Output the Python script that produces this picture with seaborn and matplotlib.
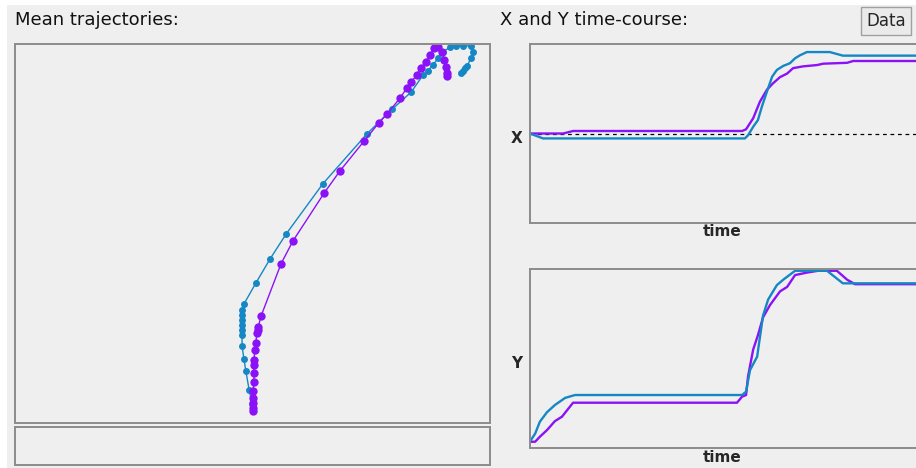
import matplotlib
matplotlib.use("Agg")
import matplotlib.pyplot as plt
import seaborn as sns
import pandas as pd
from matplotlib.patches import Rectangle

# colours of the two conditions
purple = "#8B12F7"
blue = "#1487C4"
panel_bg = "#EFEFEF"
frame = "#8C8C8C"

# ---- mean trajectories (x, y), bottom to top ----
traj_purple_x = [50.1, 50.1, 50.1, 50.1, 50.1, 50.3, 50.3, 50.3, 50.3, 50.5, 50.7, 50.9, 51.2, 51.2,
                 51.8, 56.0, 58.5, 65.1, 68.4, 73.5, 76.6, 78.3, 81.1, 82.5, 83.4, 84.6, 85.5,
                 86.5, 87.4, 88.2, 89.1, 89.9, 90.3, 90.7, 90.9, 90.9]
traj_purple_y = [3.2, 4.0, 5.3, 6.6, 8.4, 10.8, 13.2, 15.3, 16.6, 19.3, 21.1, 23.7, 24.5, 25.3,
                 28.2, 42.0, 48.0, 60.7, 66.5, 74.4, 79.2, 81.5, 85.8, 88.4, 90.0, 91.8, 93.7,
                 95.3, 97.1, 98.9, 99.2, 97.9, 95.8, 93.9, 92.3, 91.6]

traj_blue_x = [50.1, 49.9, 49.3, 48.6, 48.2, 47.8, 47.8, 47.8, 47.8, 47.8, 47.8, 47.8, 48.2,
               50.7, 53.7, 57.1, 64.8, 74.1, 79.4, 83.4, 85.9, 86.9, 88.0, 89.1, 90.1, 91.6,
               92.8, 94.3, 96.0, 96.4, 96.0, 95.2, 94.7, 94.3, 93.9]
traj_blue_y = [4.0, 5.0, 8.7, 13.7, 16.9, 20.3, 23.2, 24.5, 25.9, 27.2, 28.5, 29.8, 31.4,
               36.9, 43.3, 49.9, 63.1, 76.3, 82.8, 87.3, 91.8, 92.9, 94.5, 96.3, 97.9, 99.2,
               99.5, 99.5, 99.5, 97.9, 96.3, 94.2, 93.7, 92.9, 92.3]

# ---- X time-course ----
x_purple_t = [0, 8.4, 10.9, 53.7, 54.7, 56.5, 58.2, 60.0, 61.5, 63.3, 65.1, 66.6, 69.1, 72.7, 74.2,
              80.3, 81.8, 100]
x_purple_v = [0.0, 0.0, 0.028, 0.028, 0.047, 0.17, 0.355, 0.49, 0.56, 0.63, 0.67, 0.73, 0.75, 0.765,
              0.78, 0.79, 0.81, 0.81]
x_blue_t = [0, 1.8, 3.3, 54.4, 55.2, 56.5, 57.7, 58.7, 60.0, 61.3, 62.5, 64.1, 65.8, 67.1, 68.4,
            70.1, 75.9, 79.2, 100]
x_blue_v = [0.0, -0.03, -0.055, -0.055, -0.02, 0.075, 0.15, 0.30, 0.47, 0.635, 0.71, 0.755, 0.785,
            0.84, 0.875, 0.91, 0.91, 0.87, 0.87]

# ---- Y time-course ----
y_purple_t = [0.25, 1.3, 2.5, 4.3, 6.3, 8.1, 10.9, 52.4, 53.7, 54.7, 55.2, 56.5, 57.7, 59.0, 60.8,
              63.3, 65.1, 67.1, 70.1, 72.9, 77.7, 80.3, 82.3, 100]
y_purple_v = [0.035, 0.035, 0.063, 0.10, 0.15, 0.175, 0.253, 0.253, 0.287, 0.296, 0.40, 0.55, 0.63,
              0.73, 0.80, 0.875, 0.90, 0.966, 0.98, 0.99, 0.99, 0.94, 0.915, 0.915]
y_blue_t = [0.25, 1.3, 2.5, 4.3, 6.3, 8.9, 11.4, 53.7, 54.7, 55.7, 57.5, 59.0, 60.3, 62.5, 64.1,
            67.1, 75.2, 79.2, 100]
y_blue_v = [0.045, 0.08, 0.147, 0.20, 0.24, 0.28, 0.296, 0.296, 0.315, 0.435, 0.51, 0.74, 0.83,
            0.91, 0.94, 0.99, 0.99, 0.92, 0.92]

sns.set_style("white")
plt.rcParams["font.family"] = ["DejaVu Sans"]

W, H = 916, 468
fig = plt.figure(figsize=(W / 100, H / 100), dpi=100)
fig.patch.set_facecolor("white")
fig.add_artist(Rectangle((7 / W, 0), 1, (H - 5) / H, transform=fig.transFigure,
                         facecolor=panel_bg, edgecolor="none", zorder=-10))


def box(ax):
    ax.set_facecolor(panel_bg)
    ax.set_xticks([])
    ax.set_yticks([])
    ax.set_xlabel("")
    ax.set_ylabel("")
    for s in ax.spines.values():
        s.set_color(frame)
        s.set_linewidth(1.4)


# trajectories panel
ax_traj = fig.add_axes([15 / W, 1 - 423 / H, 475 / W, 379 / H])
for xs, ys, c, ms in [(traj_blue_x, traj_blue_y, blue, 5),
                      (traj_purple_x, traj_purple_y, purple, 6)]:
    df = pd.DataFrame({"x": xs, "y": ys})
    sns.lineplot(data=df, x="x", y="y", sort=False, estimator=None, ax=ax_traj,
                 color=c, linewidth=1, marker="o", markersize=ms,
                 markeredgewidth=0, clip_on=True)
ax_traj.set_xlim(0, 100)
ax_traj.set_ylim(0, 100)
box(ax_traj)

# empty box under trajectories
ax_info = fig.add_axes([15 / W, 1 - 465 / H, 475 / W, 38 / H])
box(ax_info)

# X time course
ax_x = fig.add_axes([530 / W, 1 - 223 / H, 395 / W, 179 / H])
ax_x.axhline(0, color="black", linestyle=(0, (3, 3)), linewidth=0.9)
for ts, vs, c in [(x_purple_t, x_purple_v, purple), (x_blue_t, x_blue_v, blue)]:
    sns.lineplot(x=ts, y=vs, ax=ax_x, color=c, linewidth=1.7)
ax_x.set_xlim(0, 100)
ax_x.set_ylim(-1, 1)
box(ax_x)

# Y time course
ax_y = fig.add_axes([530 / W, 1 - 448 / H, 395 / W, 179 / H])
for ts, vs, c in [(y_purple_t, y_purple_v, purple), (y_blue_t, y_blue_v, blue)]:
    sns.lineplot(x=ts, y=vs, ax=ax_y, color=c, linewidth=1.7)
ax_y.set_xlim(0, 100)
ax_y.set_ylim(0, 1)
box(ax_y)

# texts
fig.text(15 / W, 1 - 20 / H, "Mean trajectories:", fontsize=13, va="center", ha="left", color="#111111")
fig.text(500 / W, 1 - 20 / H, "X and Y time-course:", fontsize=13, va="center", ha="left", color="#111111")
fig.text(517 / W, 1 - 138 / H, "X", fontsize=11, fontweight="bold", ha="center", va="center")
fig.text(517 / W, 1 - 363 / H, "Y", fontsize=11, fontweight="bold", ha="center", va="center")
fig.text(722 / W, 1 - 232 / H, "time", fontsize=11, fontweight="bold", ha="center", va="center")
fig.text(722 / W, 1 - 457 / H, "time", fontsize=11, fontweight="bold", ha="center", va="center")
fig.text(866 / W, 1 - 21 / H, "Data", fontsize=12, ha="left", va="center",
         bbox=dict(boxstyle="square,pad=0.3", facecolor="#EAEAEA", edgecolor="#A0A0A0", linewidth=1))

fig.savefig("out.png", dpi=100, facecolor=fig.get_facecolor())
